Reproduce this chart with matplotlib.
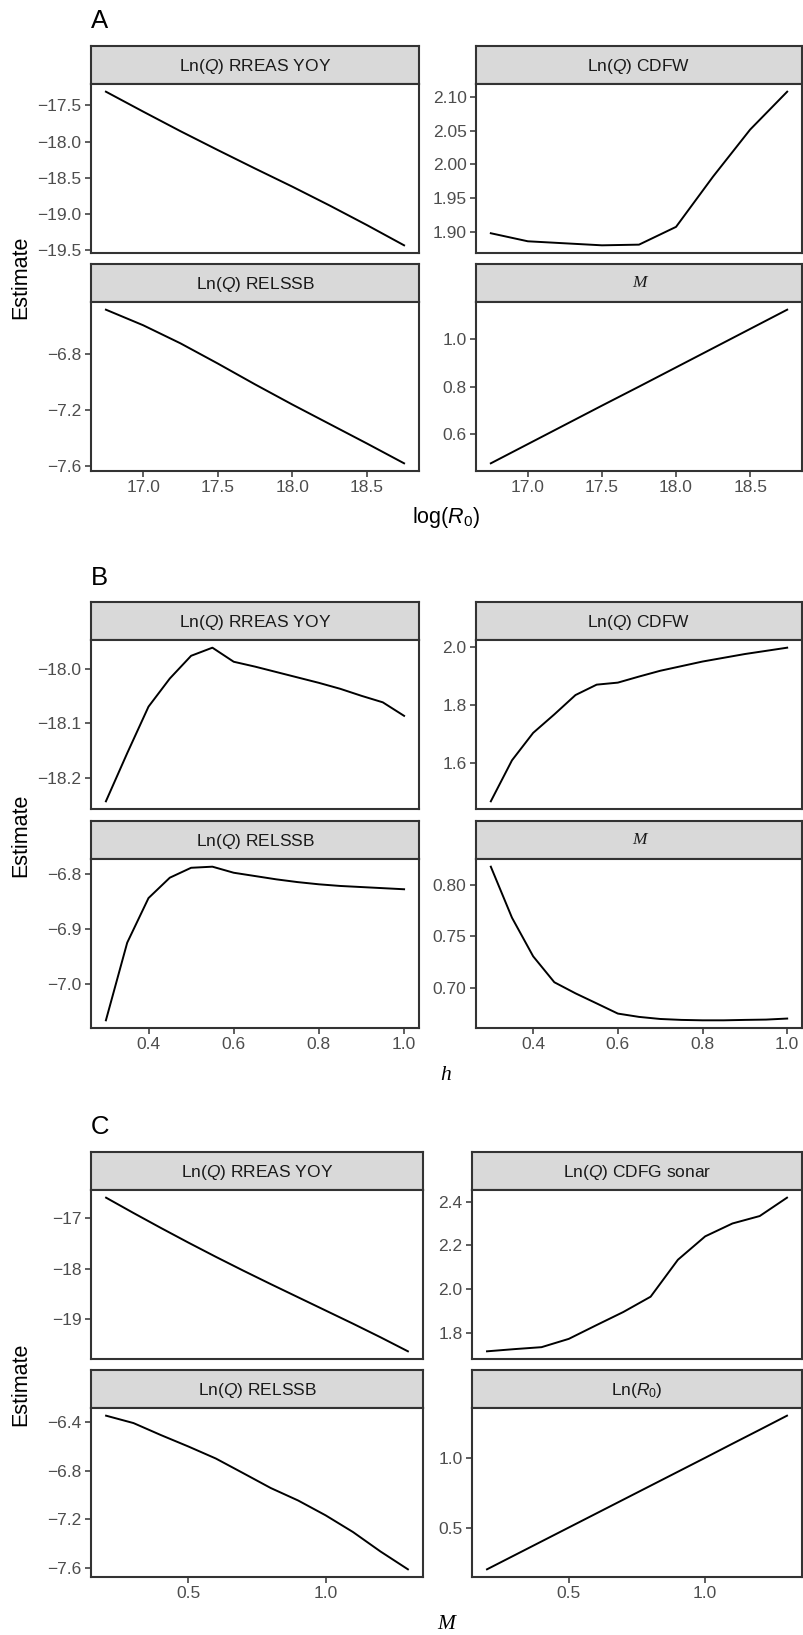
import matplotlib
matplotlib.use("Agg")
import matplotlib.pyplot as plt
from matplotlib.ticker import FixedLocator, FuncFormatter

plt.rcParams["font.family"] = ["Liberation Sans", "DejaVu Sans"]
plt.rcParams["mathtext.fontset"] = "custom"
plt.rcParams["mathtext.rm"] = "Liberation Sans"
plt.rcParams["mathtext.it"] = "Liberation Sans:italic"

# --- data ---
# A: sensitivity to log(R0)
log_r0 = [16.75, 17.0, 17.25, 17.5, 17.75, 18.0, 18.25, 18.5, 18.75]
a_rreas = [-17.31, -17.585, -17.855, -18.115, -18.37, -18.62, -18.88, -19.15, -19.43]
a_cdfw = [1.8975, 1.8855, 1.8825, 1.8795, 1.8805, 1.907, 1.982, 2.052, 2.1085]
a_relssb = [-6.478, -6.59, -6.72, -6.865, -7.015, -7.16, -7.30, -7.44, -7.583]
a_m = [0.477, 0.558, 0.639, 0.72, 0.80, 0.881, 0.962, 1.043, 1.124]

# B: sensitivity to steepness h
steep = [0.3, 0.35, 0.4, 0.45, 0.5, 0.55, 0.6, 0.65, 0.7, 0.75, 0.8, 0.85, 0.9, 0.95, 1.0]
b_rreas = [-18.244, -18.155, -18.069, -18.017, -17.975, -17.960, -17.986, -17.995,
           -18.005, -18.015, -18.025, -18.036, -18.049, -18.061, -18.086]
b_cdfw = [1.467, 1.609, 1.704, 1.768, 1.835, 1.871, 1.878, 1.899, 1.919, 1.935,
          1.951, 1.964, 1.977, 1.988, 1.999]
b_relssb = [-7.066, -6.925, -6.844, -6.807, -6.789, -6.787, -6.798, -6.804, -6.810,
            -6.815, -6.819, -6.822, -6.824, -6.826, -6.828]
b_m = [0.8172, 0.768, 0.7308, 0.7058, 0.6951, 0.6854, 0.6756, 0.6724, 0.6704,
       0.6695, 0.6691, 0.6691, 0.6695, 0.6698, 0.6708]

# C: sensitivity to natural mortality M
mort = [0.2, 0.3, 0.4, 0.5, 0.6, 0.7, 0.8, 0.9, 1.0, 1.1, 1.2, 1.3]
c_rreas = [-16.603, -16.905, -17.200, -17.488, -17.768, -18.040, -18.305, -18.565,
           -18.825, -19.085, -19.352, -19.629]
c_sonar = [1.715, 1.725, 1.734, 1.772, 1.834, 1.895, 1.965, 2.134, 2.241, 2.300,
           2.334, 2.418]
c_relssb = [-6.345, -6.406, -6.505, -6.599, -6.698, -6.819, -6.941, -7.044, -7.166,
            -7.304, -7.464, -7.611]
c_r0 = [0.207, 0.306, 0.405, 0.504, 0.603, 0.702, 0.801, 0.900, 0.999, 1.099,
        1.198, 1.298]

W, H = 804, 1635
fig = plt.figure(figsize=(W / 100, H / 100), dpi=100)

DARK = "#333333"
TXT = "#4D4D4D"


def box(l, t, r, b):
    return [l / W, 1 - b / H, (r - l) / W, (b - t) / H]


def fmt(spec):
    # format with a real minus sign like the reference
    return FuncFormatter(lambda v, p: (spec % v).replace("-", "\u2212"))


def facet(l, r, top, x, y, title, yticks, yfmt, xticks=None, xfmt="%.1f", serif=False):
    strip_h, plot_h = 38, 169
    st = fig.add_axes(box(l, top, r, top + strip_h))
    st.set_facecolor("#D9D9D9")
    st.set_xticks([])
    st.set_yticks([])
    for s in st.spines.values():
        s.set_linewidth(1.5)
        s.set_color(DARK)
    if serif:
        st.text(0.5, 0.5, title, ha="center", va="center", fontsize=12.5,
                family="Liberation Serif", style="italic", color="#1A1A1A")
    else:
        st.text(0.5, 0.45, title, ha="center", va="center", fontsize=12.5,
                color="#1A1A1A")

    ax = fig.add_axes(box(l, top + strip_h, r, top + strip_h + plot_h))
    ax.plot(x, y, color="black", lw=1.4)
    ax.margins(x=0.05, y=0.05)
    for s in ax.spines.values():
        s.set_linewidth(1.5)
        s.set_color(DARK)
    ax.yaxis.set_major_locator(FixedLocator(yticks))
    ax.yaxis.set_major_formatter(fmt(yfmt))
    ax.tick_params(axis="both", length=4.3, width=1.1, color=DARK, labelcolor=TXT,
                   labelsize=12.5, pad=2.5)
    if xticks is None:
        ax.set_xticks([])
    else:
        ax.xaxis.set_major_locator(FixedLocator(xticks))
        ax.xaxis.set_major_formatter(fmt(xfmt))
    return ax


# ---- panel A ----
t = 46
facet(91, 419, t, log_r0, a_rreas, r"Ln($Q$) RREAS YOY", [-17.5, -18.0, -18.5, -19.0, -19.5], "%.1f")
facet(476, 802, t, log_r0, a_cdfw, r"Ln($Q$) CDFW", [1.90, 1.95, 2.00, 2.05, 2.10], "%.2f")
facet(91, 419, t + 218, log_r0, a_relssb, r"Ln($Q$) RELSSB", [-6.8, -7.2, -7.6], "%.1f",
      xticks=[17.0, 17.5, 18.0, 18.5])
facet(476, 802, t + 218, log_r0, a_m, "M", [0.6, 0.8, 1.0], "%.1f",
      xticks=[17.0, 17.5, 18.0, 18.5], serif=True)

# ---- panel B ----
t = 602
facet(91, 419, t, steep, b_rreas, r"Ln($Q$) RREAS YOY", [-18.0, -18.1, -18.2], "%.1f")
facet(476, 802, t, steep, b_cdfw, r"Ln($Q$) CDFW", [1.6, 1.8, 2.0], "%.1f")
facet(91, 419, t + 219, steep, b_relssb, r"Ln($Q$) RELSSB", [-6.8, -6.9, -7.0], "%.1f",
      xticks=[0.4, 0.6, 0.8, 1.0])
facet(476, 802, t + 219, steep, b_m, "M", [0.70, 0.75, 0.80], "%.2f",
      xticks=[0.4, 0.6, 0.8, 1.0], serif=True)

# ---- panel C ----
t = 1152
facet(91, 423, t, mort, c_rreas, r"Ln($Q$) RREAS YOY", [-17, -18, -19], "%d")
facet(472, 802, t, mort, c_sonar, r"Ln($Q$) CDFG sonar", [1.8, 2.0, 2.2, 2.4], "%.1f")
facet(91, 423, t + 218, mort, c_relssb, r"Ln($Q$) RELSSB", [-6.4, -6.8, -7.2, -7.6], "%.1f",
      xticks=[0.5, 1.0])
facet(472, 802, t + 218, mort, c_r0, r"Ln($R_{\mathit{0}}$)", [0.5, 1.0], "%.1f",
      xticks=[0.5, 1.0])

# tags, axis titles
for tag, yb in [("A", 28), ("B", 585), ("C", 1134)]:
    fig.text(91 / W, 1 - yb / H, tag, fontsize=18.5, ha="left", va="baseline", color="black")

for yc in [277, 835, 1384]:
    fig.text(21 / W, 1 - yc / H, "Estimate", rotation=90, fontsize=15.5,
             ha="center", va="center", color="black")

fig.text(446 / W, 1 - 518 / H, r"log($R_0$)", fontsize=15.5, ha="center", va="center")
fig.text(446 / W, 1 - 1075 / H, "h", fontsize=15.5, ha="center", va="center",
         family="Liberation Serif", style="italic")
fig.text(446 / W, 1 - 1624 / H, "M", fontsize=15.5, ha="center", va="center",
         family="Liberation Serif", style="italic")

fig.savefig("out.png", dpi=100)
